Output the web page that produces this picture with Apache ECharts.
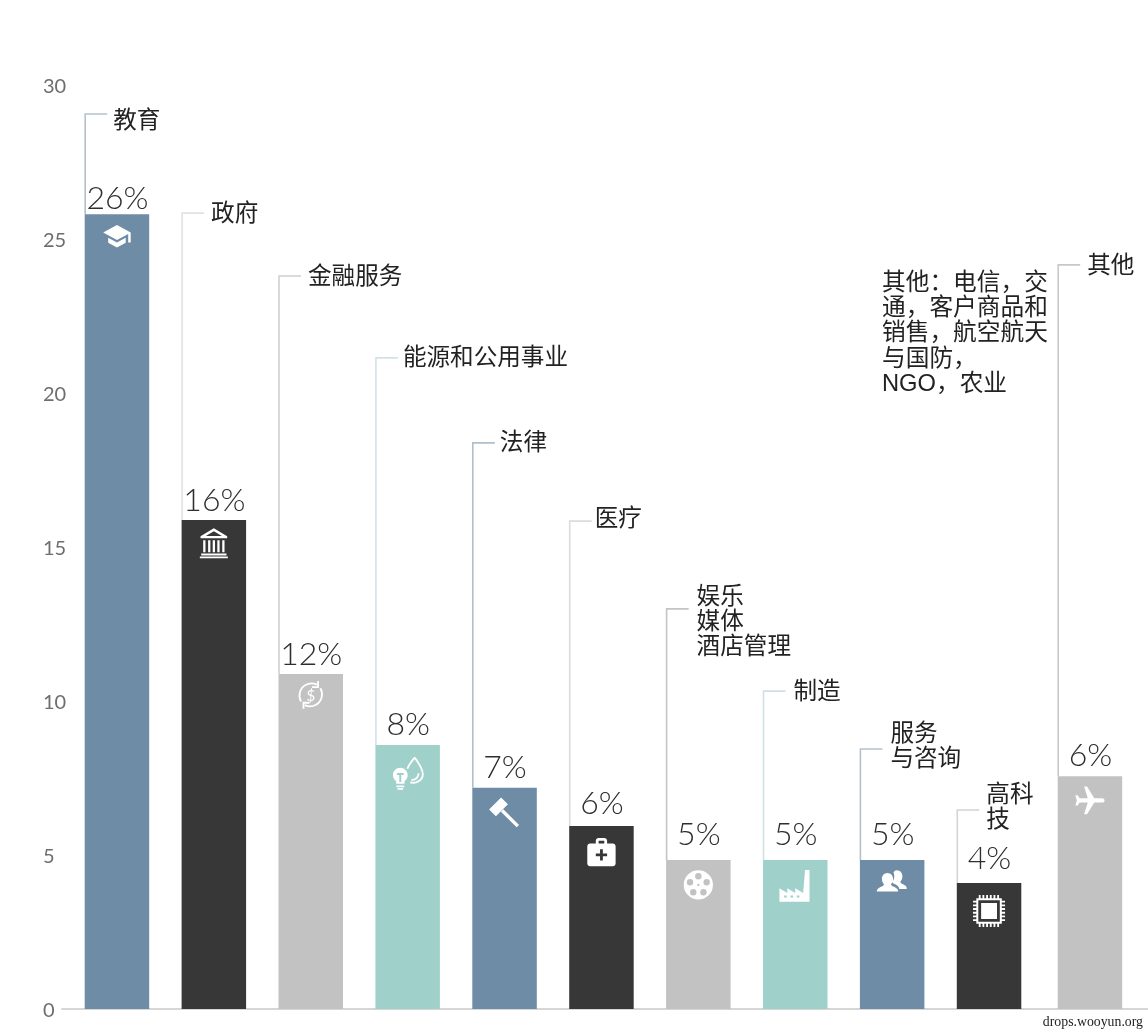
<!DOCTYPE html>
<html><head><meta charset="utf-8">
<style>html,body{margin:0;padding:0;background:#fff}#c{width:1148px;height:1034px}</style>
<script src="https://cdn.jsdelivr.net/npm/echarts@6/dist/echarts.min.js"></script>
</head><body><div id="c"></div>
<script>
// ---- data ----
const categories = ['教育','政府','金融服务','能源和公用事业','法律','医疗','娱乐\n媒体\n酒店管理','制造','服务\n与咨询','高科\n技','其他'];
const barValues  = [25.8,15.88,10.88,8.57,7.18,5.94,4.84,4.84,4.84,4.09,7.56];
const valueLabels = ['26%','16%','12%','8%','7%','6%','5%','5%','5%','4%','6%'];
const leaderTops = [29.06,25.84,23.8,21.14,18.38,15.84,12.99,10.32,8.44,6.46,24.16];
const yTicks = [0,5,10,15,20,25,30];
const otherNote = '其他：电信，交\n通，客户商品和\n销售，航空航天\n与国防，\nNGO，农业';
const sourceNote = 'drops.wooyun.org';

// ---- styling tables (pixels / colours, not data) ----
const barColors = ['#6e8ca6','#373737','#c2c2c2','#9fd1ca','#6e8ca6','#373737','#c2c2c2','#9fd1ca','#6e8ca6','#373737','#c2c2c2'];
const leaderColors = ['#b4c1cc','#e2e2e2','#d0d0d0','#d3e2e8','#b0bfcc','#dcdcdc','#c4c4c4','#cfe0e2','#b4c1cc','#d4d4d4','#c8c8c8'];
const labelDx = [28,29,29,27,27,25,30,30,30,29,29];
const labelDy = [5,-1,-1,-2,-2,-4,11,-1,-5,-5,-1];
const valueLift = [0,3,3,4,4,6,9,9,9,8,4];
const iconDrop = [22,23,21,28,25,26,25,26,21,28,25];
const iconSize = [30,32,29,34,29,34,35,38,32,34,35];

const BAR_W = 64.5, SHIFT = 2;
const circle = (cx,cy,r,cw)=>`M${cx} ${cy-r}a${r} ${r} 0 1 ${cw?1:0} 0 ${2*r}a${r} ${r} 0 1 ${cw?1:0} 0 ${-2*r}z`;
function chipPath(){
  let p = 'M3 3V21H21V3ZM4.400 4.400H19.600V19.600H4.400ZM6.400 6.400V17.600H17.600V6.400Z';
  for (let i=0;i<6;i++){ const t=4.75+i*2.6;
    p += `M${t} .7h1.300v2.300h-1.300zM${t} 21h1.300v2.300h-1.300zM.7 ${t}h2.300v1.300h-2.300zM21 ${t}h2.300v1.300h-2.300z`;
  }
  return p;
}
const iconParts = [
 [{d:'M12 3L1 9l11 6 9-4.91V17h2V9L12 3zM5 13.18v4L12 21l7-3.82v-4L12 17l-7-3.82z'}],
 [{d:'M12 1L2 7v1.500h20V7zM12 3.200L18 6.800H6zM4 10h1.700v9H4zM7.700 10h1.700v9H7.700zM11.150 10h1.700v9h-1.700zM14.600 10h1.700v9h-1.700zM18.300 10h1.700v9h-1.700zM2.500 20h19v1.400H2.500zM1.500 22.200h21v1.300H1.500z'}],
 [{stroke:1.5,d:'M4 17.500A10 10 0 0 1 17 3.500M20 6.500A10 10 0 0 1 7 20.500'},
  {stroke:1.5,d:'M18 .5V5.500H13M6 23.500V18.500H11'}],
 [{d:'M6.800 8.200c-2.900 0-5.200 2.300-5.200 5.200 0 1.900 1 3.500 2.300 4.400v1.800H9.800v-1.800c1.400-.9 2.200-2.500 2.200-4.400 0-2.900-2.300-5.200-5.200-5.200zM4 20.800h5.600v1.200H4zM4.800 22.600h4v1.200h-4z'},
  {fill:'bar',d:'M4.400 12h4.800v1.400H7.500v5H6.100v-5H4.400z'},
  {stroke:1.300,d:'M17 1C14.800 3.700 12.600 6.300 11.800 9M13.800 18.600C18.400 19.800 22.700 16.800 22.700 12.800C22.700 8.800 19.500 5 17 1M14.600 17C17.400 17 19.800 15 19.700 12.200'}],
 [{d:'M14.780 4.880L9.120-.78L-.78 9.120L4.880 14.780ZM9 11L11 9L24 22L22 24Z'}],
 [{d:'M20 6h-4V4c0-1.100-.9-2-2-2h-4c-1.100 0-2 .9-2 2v2H4c-1.100 0-2 .9-2 2v12c0 1.100.9 2 2 2h16c1.100 0 2-.9 2-2V8c0-1.100-.9-2-2-2zM10 4h4v2h-4V4zm6 11h-3v3h-2v-3H8v-2h3v-3h2v3h3v2z'}],
 [{d:circle(12,12,10,true)+circle(12,6,2.2,false)+circle(6.3,10.2,2.2,false)+circle(17.7,10.2,2.2,false)+circle(8.5,17,2.2,false)+circle(15.5,17,2.2,false)+circle(12,12,.8,false)}],
 [{d:'M2 22V13.500l5 3v-3l5 3v-3l5 3L18.200 2H21V22ZM5 18v1.300h1.600V18ZM9 18v1.300h1.600V18ZM13 18v1.300h1.600V18Z'}],
 [{d:'M15.500 4c2.600 0 4.200 2.200 4.200 4.600 0 1.700-.7 3-1.600 4 .2.900 1 1.400 2 1.900 1.400.6 2.900 1.400 2.900 3.500h-5.600c-.3-1.800-1.700-2.800-3.200-3.500-1.200-.5-1.900-1-2.100-1.900 1-1.200 1.500-2.700 1.500-4.200 0-1-.2-1.900-.6-2.700C13.600 4.500 14.400 4 15.500 4zM8.500 6c2.600 0 4.200 2.100 4.200 4.500 0 1.700-.7 3-1.600 4 .2.900 1 1.400 2.100 1.900 1.500.7 3.300 1.500 3.300 3.600H.5c0-2.100 1.800-2.900 3.300-3.600 1.100-.5 1.900-1 2.100-1.900-.9-1-1.600-2.300-1.600-4C4.300 8.100 5.900 6 8.500 6z'}],
 [{d:chipPath()}],
 [{d:'M21 16v-2l-8-5V3.500c0-.83-.67-1.500-1.500-1.500S10 2.670 10 3.500V9l-8 5v2l8-2.500V19l-2 1.500V22l3.500-1 3.500 1v-1.500L13 19v-5.500l8 2.500z'}]
];
const iconRotation = [0,0,0,0,0,0,0,0,0,0,-Math.PI/2];

const LATO = 'Lato, "Noto Sans", sans-serif';
const CJK = '"Noto Sans CJK SC", sans-serif';

const mkBars = (keep) => barValues.map((v,i)=> keep(i) ? {
  value: v,
  itemStyle:{color:barColors[i]},
  label:{distance:valueLift[i]}
} : null);
const valueLabel = {show:true,position:'top',offset:[0.5,0],fontFamily:LATO,fontWeight:300,fontSize:32,color:'#2e2e2e',
                    formatter:p=>valueLabels[p.dataIndex]};

const option = {
  animation:false,
  backgroundColor:'#fff',
  title:{text:sourceNote,right:5,top:1015,padding:0,textStyle:{fontFamily:'"Liberation Serif", serif',fontSize:13.8,fontWeight:'normal',color:'#222'}},
  grid:[
    {left:70.5,width:1065.9,top:85,height:924},
    {left:62,right:0,top:85,height:924}
  ],
  xAxis:[
    {type:'category',gridIndex:0,data:categories,axisLine:{show:false},axisTick:{show:false},axisLabel:{show:false}},
    {type:'category',gridIndex:1,data:categories,z:1,axisLine:{show:true,lineStyle:{color:'#d6d6d6',width:2}},axisTick:{show:false},axisLabel:{show:false}}
  ],
  yAxis:[
    {type:'value',gridIndex:0,min:yTicks[0],max:yTicks[yTicks.length-1],interval:5,
     axisLine:{show:false},axisTick:{show:false},splitLine:{show:false},
     axisLabel:{align:'left',margin:27.5,formatter:'{t|{value}}',
       rich:{t:{color:'#6e6e6e',fontFamily:LATO,fontSize:20,padding:[4,0,0,0]}}}},
    {type:'value',gridIndex:1,min:0,max:30,show:false,splitLine:{show:false}}
  ],
  series:[
    { type:'custom',xAxisIndex:0,yAxisIndex:0,z:1,silent:true,
      data:leaderTops.map((t,i)=>[i,barValues[i],t]),
      renderItem(params,api){
        const i=api.value(0), shift=i===10?SHIFT:-SHIFT;
        const top=api.coord([i,api.value(2)]), bot=api.coord([i,api.value(1)]);
        const lx=top[0]+shift-BAR_W/2+0.5;
        return {type:'group',children:[
          {type:'polyline',shape:{points:[[lx,bot[1]],[lx,top[1]],[lx+22,top[1]]]},
           style:{stroke:leaderColors[i],lineWidth:1.6,fill:null}},
          {type:'text',style:{x:lx+labelDx[i],y:top[1]+labelDy[i],text:categories[i],
            fontFamily:CJK,fontSize:23.6,lineHeight:25,fill:'#222',align:'left',verticalAlign:'middle'}}
        ]};
      }},
    { type:'bar',name:'main',z:3,barWidth:BAR_W,barGap:((-(BAR_W-2*SHIFT)/BAR_W)*100)+'%',
      data:mkBars(i=>i<10), label:valueLabel },
    { type:'bar',name:'other',z:3,barWidth:BAR_W,
      data:mkBars(i=>i===10), label:valueLabel },
    { type:'custom',xAxisIndex:0,yAxisIndex:0,z:5,silent:true,
      data:barValues.map((v,i)=>[i,v]),
      renderItem(params,api){
        const i=api.value(0), shift=i===10?SHIFT:-SHIFT;
        const c=api.coord([i,api.value(1)]), k=iconSize[i]/24;
        const cx=c[0]+shift, cy=c[1]+iconDrop[i];
        const kids=iconParts[i].map(p=>({type:'path',x:cx-12,y:cy-12,originX:12,originY:12,
          scaleX:k,scaleY:k,rotation:iconRotation[i],
          shape:{pathData:p.d},
          style:p.stroke?{fill:null,stroke:'#fff',lineWidth:p.stroke}:{fill:p.fill==='bar'?barColors[i]:'#fff'}}));
        if(i===2) kids.push({type:'text',style:{x:cx,y:cy+1,text:'$',fontFamily:LATO,fontSize:15,fill:'#fff',align:'center',verticalAlign:'middle'}});
        return {type:'group',children:kids};
      }}
  ],
  graphic:[{type:'text',left:882,top:270.5,z:10,style:{text:otherNote,fontFamily:'"Liberation Sans","Noto Sans CJK SC",sans-serif',fontSize:23.7,lineHeight:25.3,fill:'#222'}}]
};
echarts.init(document.getElementById('c'),null,{renderer:'canvas'}).setOption(option);
</script></body></html>
